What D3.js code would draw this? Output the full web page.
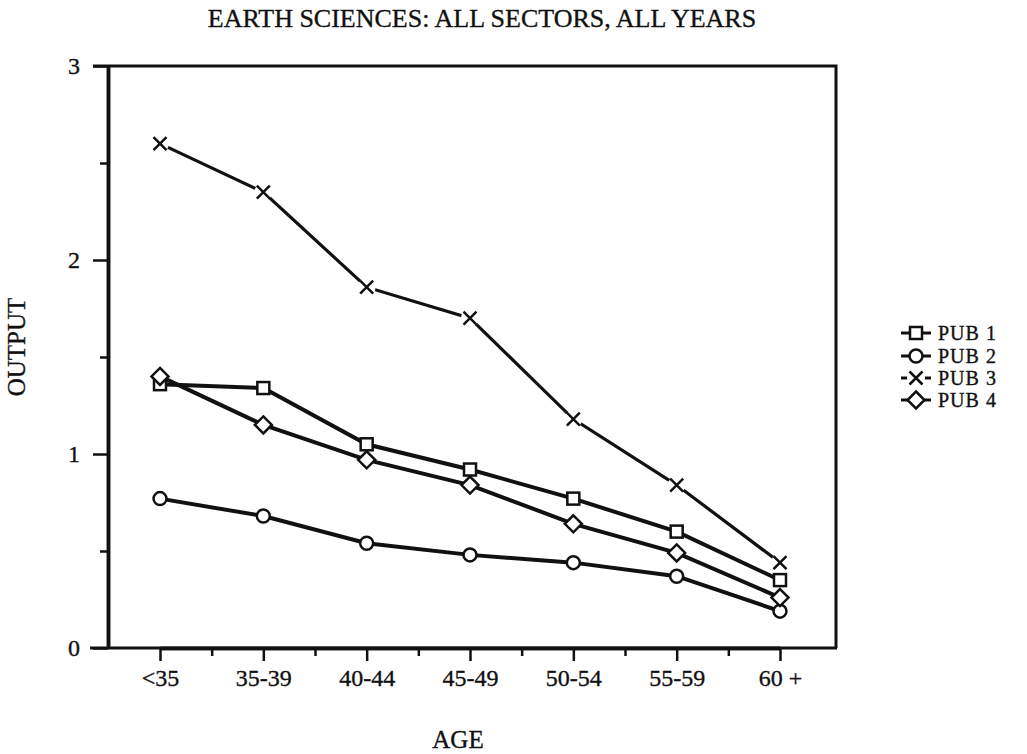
<!DOCTYPE html>
<html>
<head>
  <script src="https://d3js.org/d3.v7.js"></script>
  <style>
    html, body {
      margin: 0px;
      padding: 0px;
      background: #fff;
    }
    text {
      font-family: "Liberation Serif", "DejaVu Serif", serif;
      fill: #111;
      stroke: #111;
      stroke-width: 0.35px;
    }
    .axis text {
      font-size: 24px;
    }
    .title {
      font-size: 26px;
    }
    .axisLabel {
      font-size: 25px;
    }
    .legendText {
      font-size: 20px;
      letter-spacing: 1px;
    }
  </style>
</head>
<body>
  <div id="chart"></div>
  <script>

    // data
    const ages = ["<35", "35-39", "40-44", "45-49", "50-54", "55-59", "60 +"];
    const pub1 = [1.36, 1.34, 1.05, 0.92, 0.77, 0.60, 0.35];
    const pub2 = [0.77, 0.68, 0.54, 0.48, 0.44, 0.37, 0.19];
    const pub3 = [2.60, 2.35, 1.86, 1.70, 1.18, 0.84, 0.44];
    const pub4 = [1.40, 1.15, 0.97, 0.84, 0.64, 0.49, 0.26];
    const seriesNames = ["PUB 1", "PUB 2", "PUB 3", "PUB 4"];
    const seriesShapes = ["square", "circle", "cross", "diamond"];
    const yMajor = [0, 1, 2, 3];
    const yMinor = [0.5, 1.5, 2.5];

    const width = 1027, height = 754;
    const plot = {left: 108, right: 836, top: 66, bottom: 648};

    const svg = d3.select("#chart")
      .append("svg")
      .attr("width", width)
      .attr("height", height);

    const xScale = d3.scalePoint()
      .domain(ages)
      .range([160, 780]);

    // index scale, only used to place the minor ticks between ages
    const xIdx = d3.scaleLinear()
      .domain([0, ages.length - 1])
      .range([160, 780]);

    const yScale = d3.scaleLinear()
      .domain([0, 3])
      .range([plot.bottom, plot.top]);

    /*
    FRAME
    */
    svg.append("line")
      .attr("x1", 90).attr("x2", plot.right + 1)
      .attr("y1", plot.bottom).attr("y2", plot.bottom)
      .attr("stroke", "#111").attr("stroke-width", 3);

    svg.append("path")
      .attr("d", `M${plot.left - 15},${plot.top} H${plot.right} V${plot.bottom}`)
      .attr("fill", "none")
      .attr("stroke", "#111").attr("stroke-width", 3);

    /*
    AXES
    */
    svg.append("g")
      .attr("class", "axis")
      .attr("transform", `translate(${plot.left},0)`)
      .call(d3.axisLeft(yScale).tickValues(yMajor).tickFormat(d3.format("d"))
        .tickSize(15).tickSizeOuter(0).tickPadding(13));

    svg.append("g")
      .attr("transform", `translate(${plot.left},0)`)
      .call(d3.axisLeft(yScale).tickValues(yMinor).tickFormat("")
        .tickSize(8).tickSizeOuter(0));

    svg.append("g")
      .attr("class", "axis")
      .attr("transform", `translate(0,${plot.bottom})`)
      .call(d3.axisBottom(xScale).tickSize(13).tickSizeOuter(0).tickPadding(8));

    svg.append("g")
      .attr("transform", `translate(0,${plot.bottom})`)
      .call(d3.axisBottom(xIdx).tickValues([0.5, 1.5, 2.5, 3.5, 4.5, 5.5])
        .tickFormat("").tickSize(8).tickSizeOuter(0));

    svg.selectAll(".domain").attr("stroke", "#111").attr("stroke-width", 3.5);
    svg.selectAll(".tick line").attr("stroke", "#111").attr("stroke-width", 2.5);

    /*
    LINES + MARKERS
    */
    const seriesData = [pub1, pub2, pub3, pub4];

    const line = d3.line()
      .x((d, i) => xScale(ages[i]))
      .y(d => yScale(d));

    function drawMarker(g, shape, x, y) {
      if (shape === "square") {
        g.append("rect")
          .attr("x", x - 6).attr("y", y - 6)
          .attr("width", 12).attr("height", 12)
          .attr("fill", "#fff").attr("stroke", "#111").attr("stroke-width", 2.5);
      } else if (shape === "circle") {
        g.append("circle")
          .attr("cx", x).attr("cy", y).attr("r", 6.5)
          .attr("fill", "#fff").attr("stroke", "#111").attr("stroke-width", 2.5);
      } else if (shape === "diamond") {
        g.append("path")
          .attr("d", `M${x},${y - 8.5} L${x + 8.5},${y} L${x},${y + 8.5} L${x - 8.5},${y} Z`)
          .attr("fill", "#fff").attr("stroke", "#111").attr("stroke-width", 2.5);
      } else {
        // the X: white patch behind it so the line breaks around the mark
        g.append("circle")
          .attr("cx", x).attr("cy", y).attr("r", 9)
          .attr("fill", "#fff");
        g.append("path")
          .attr("d", `M${x - 6.5},${y - 6.5} L${x + 6.5},${y + 6.5} M${x - 6.5},${y + 6.5} L${x + 6.5},${y - 6.5}`)
          .attr("stroke", "#111").attr("stroke-width", 2.5);
      }
    }

    seriesData.forEach(function(vals, s) {
      svg.append("path")
        .datum(vals)
        .attr("d", line)
        .attr("fill", "none")
        .attr("stroke", "#111")
        .attr("stroke-width", s === 2 ? 3.2 : 4);
    });

    seriesData.forEach(function(vals, s) {
      const g = svg.append("g");
      vals.forEach(function(v, i) {
        drawMarker(g, seriesShapes[s], xScale(ages[i]), yScale(v));
      });
    });

    /*
    LEGEND
    */
    const legendY = [333, 356, 378, 400];
    seriesNames.forEach(function(name, s) {
      const g = svg.append("g");
      g.append("line")
        .attr("x1", 901).attr("x2", 931)
        .attr("y1", legendY[s]).attr("y2", legendY[s])
        .attr("stroke", "#111").attr("stroke-width", 3);
      drawMarker(g, seriesShapes[s], 916, legendY[s]);
      g.append("text")
        .attr("class", "legendText")
        .attr("x", 938)
        .attr("y", legendY[s] + 7)
        .text(name);
    });

    /*
    TITLES
    */
    svg.append("text")
      .attr("class", "title")
      .attr("x", 482).attr("y", 27)
      .attr("text-anchor", "middle")
      .text("EARTH SCIENCES: ALL SECTORS, ALL YEARS");

    svg.append("text")
      .attr("class", "axisLabel")
      .attr("x", 458).attr("y", 748)
      .attr("text-anchor", "middle")
      .text("AGE");

    svg.append("text")
      .attr("class", "axisLabel")
      .attr("transform", "translate(25,347) rotate(-90)")
      .attr("text-anchor", "middle")
      .text("OUTPUT");

  </script>
</body>
</html>
